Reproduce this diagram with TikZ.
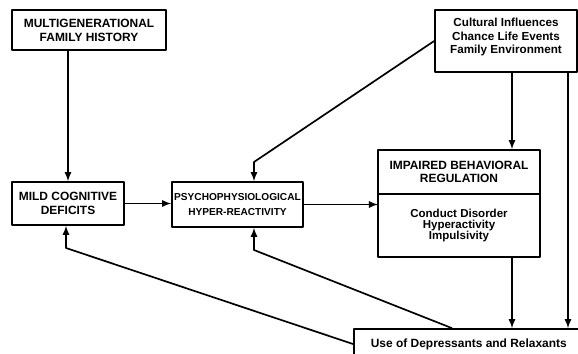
\documentclass[tikz,border=0pt]{standalone}
\usepackage{fontspec}
\setmainfont{Liberation Sans}
\begin{document}
\begin{tikzpicture}[x=0.025cm,y=-0.025cm,line width=1.2pt,line join=bevel,>=latex,
	boite/.style={draw,align=center,inner sep=0pt,font=\bfseries\fontsize{8.5}{10}\selectfont}]
	\useasboundingbox (0,0) rectangle (578,354);
	%boites
	\node[boite,minimum width=3.85cm,minimum height=1cm] (multi) at (89,30) {MULTIGENERATIONAL\\FAMILY HISTORY};
	\node[boite,minimum width=3.55cm,minimum height=1.55cm,text depth=0.25cm,font=\bfseries\fontsize{8.3}{9.6}\selectfont] (cult) at (506,41) {Cultural Influences\\Chance Life Events\\Family Environment};
	\node[boite,minimum width=2.8cm,minimum height=1.075cm] (mild) at (68,203.5) {MILD COGNITIVE\\DEFICITS};
	\node[boite,minimum width=3.275cm,minimum height=1.125cm,font=\bfseries\fontsize{7.2}{10.5}\selectfont] (psycho) at (237.5,204.5) {PSYCHOPHYSIOLOGICAL\\HYPER-REACTIVITY};
	\node[boite,minimum width=4.05cm,minimum height=1.1cm,font=\bfseries\fontsize{8.5}{9.4}\selectfont] (regul) at (459,172) {IMPAIRED BEHAVIORAL\\REGULATION};
	\node[boite,minimum width=4.05cm,minimum height=1.575cm,font=\bfseries\fontsize{8.2}{7.8}\selectfont,anchor=north,outer sep=0pt,yshift=0.6pt] (sympt) at (regul.south) {Conduct Disorder\\Hyperactivity\\Impulsivity};
	\node[boite,minimum height=0.75cm,inner xsep=0.425cm,anchor=west] (use) at (353,344) {Use of Depressants and Relaxants};
	%points de passage
	\coordinate (xa) at (512,0);
	\coordinate (xb) at (568,0);
	\coordinate (xu) at (452,0);
	\coordinate (k1) at (254,162);
	\coordinate (k2) at (66,248);
	\coordinate (k3) at (254,250);
	%fleches
	\draw[->] (multi.south -| mild.north) -- (mild.north);
	\draw[->] (mild.east) -- (mild.east -| psycho.west);
	\draw[->] (psycho.east) -- (psycho.east -| sympt.west);
	\draw[->] (cult.west) -- (k1) -- (k1 |- psycho.north);
	\draw[->] (xa |- cult.south) -- (xa |- regul.north);
	\draw[->] (xb |- cult.south) -- (xb |- use.north);
	\draw[->] (xa |- sympt.south) -- (xa |- use.north);
	\draw[->] (use.west) -- (k2) -- (k2 |- mild.south);
	\draw[->] (xu |- use.north) -- (k3) -- (k3 |- psycho.south);
\end{tikzpicture}
\end{document}
